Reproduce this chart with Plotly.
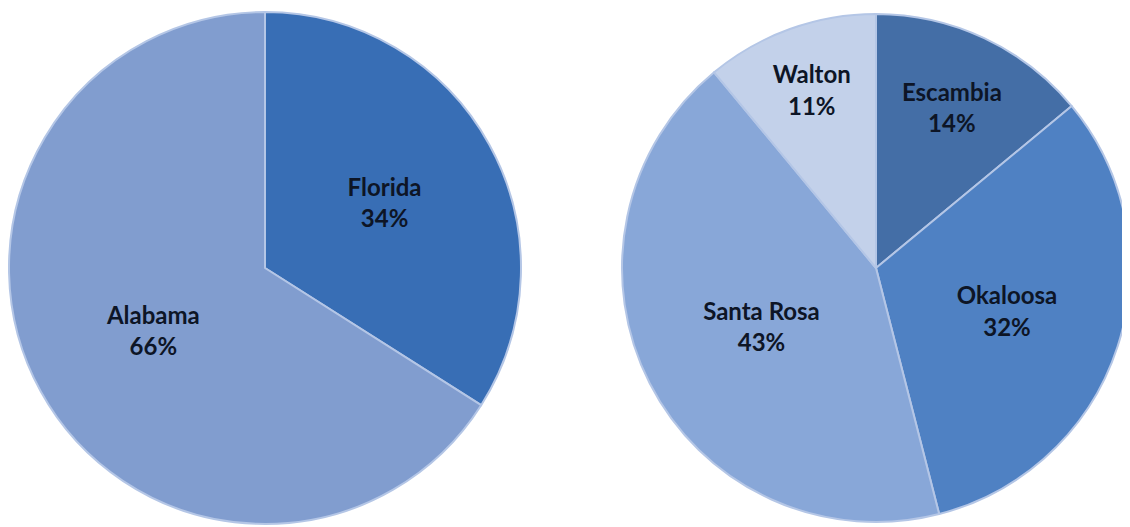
import plotly.graph_objects as go

state_labels = ["Florida", "Alabama"]
state_values = [34, 66]
state_colors = ["#386eb5", "#819dcf"]

county_labels = ["Escambia", "Okaloosa", "Santa Rosa", "Walton"]
county_values = [14, 32, 43, 11]
county_colors = ["#446ea6", "#4f81c3", "#88a7d8", "#c3d1ea"]

# page body has an 8px margin, so figure is sized to fit the 1130x527 window
W, H = 1122, 519
font = dict(family="Lato, 'Open Sans', sans-serif", size=24, color="#0d1526")
tmpl = "<b>%{label}</b><br><b>%{percent:.0%}</b>"

fig = go.Figure()
fig.add_trace(go.Pie(
    labels=state_labels, values=state_values, sort=False, direction="clockwise",
    rotation=0, marker=dict(colors=state_colors, line=dict(color="#b4c6e6", width=2)),
    texttemplate=tmpl, textposition="inside", insidetextorientation="horizontal",
    textfont=font, showlegend=False, hoverinfo="label+percent",
    domain=dict(x=[1 / W, 513 / W], y=[3 / H, 515 / H]),
))
fig.add_trace(go.Pie(
    labels=county_labels, values=county_values, sort=False, direction="clockwise",
    rotation=0, marker=dict(colors=county_colors, line=dict(color="#b4c6e6", width=2)),
    texttemplate=tmpl, textposition="inside", insidetextorientation="horizontal",
    textfont=font, showlegend=False, hoverinfo="label+percent",
    domain=dict(x=[614 / W, 1.0], y=[3 / H, 515 / H]),
))
fig.update_layout(
    width=W, height=H, margin=dict(l=0, r=0, t=0, b=0),
    paper_bgcolor="white", plot_bgcolor="white",
)
fig.write_html("out.html")
